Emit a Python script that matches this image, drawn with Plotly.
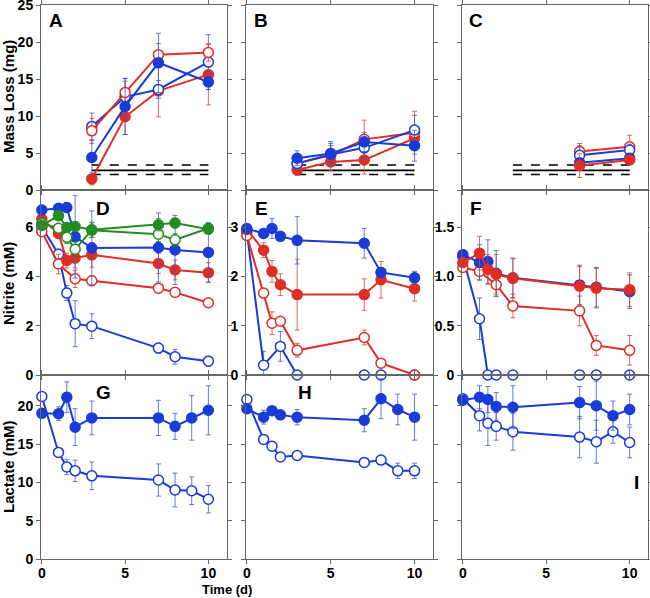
import plotly.graph_objects as go

W, H = 650, 598
BLUE = "rgb(25,60,215)"
RED = "rgb(225,45,35)"
GREEN = "rgb(35,140,35)"
EB_BLUE = "rgba(60,90,215,0.8)"
EB_RED = "rgba(215,70,55,0.8)"
EB_GREEN = "rgba(40,140,40,0.8)"

# ---------------- data ----------------
# Mass loss panels (A, B, C)
t_mass = [3, 5, 7, 10]
A_blue_filled = [4.4, 11.3, 17.2, 14.6]; A_blue_filled_e = [2.3, 3.8, 4.0, 1.0]
A_blue_open = [8.6, 12.6, 13.6, 17.3];   A_blue_open_e = [1.8, 2.5, 1.2, 3.7]
A_red_filled = [1.5, 9.9, 13.4, 15.6];   A_red_filled_e = [0.8, 2.4, 3.5, 4.1]
A_red_open = [8.0, 13.2, 18.3, 18.6];    A_red_open_e = [1.7, 1.5, 1.5, 1.2]

B_blue_filled = [4.3, 4.95, 6.5, 6.0];   B_blue_filled_e = [1.0, 1.6, 1.3, 2.1]
B_blue_open = [3.6, 4.8, 5.7, 8.1];      B_blue_open_e = [0.8, 1.5, 1.5, 2.0]
B_red_filled = [2.7, 3.8, 4.05, 7.0];    B_red_filled_e = [0.7, 1.2, 1.9, 1.5]
B_red_open = [3.6, 4.7, 6.85, 7.75];     B_red_open_e = [0.7, 1.3, 2.6, 2.9]

t_massC = [7, 10]
C_blue_filled = [3.7, 4.3];  C_blue_filled_e = [0.6, 0.6]
C_blue_open = [4.7, 5.4];    C_blue_open_e = [1.6, 0.8]
C_red_filled = [3.3, 4.05];  C_red_filled_e = [1.6, 0.6]
C_red_open = [5.2, 5.85];    C_red_open_e = [0.8, 1.55]

# Detection limit lines (mean and +/- range)
lim_t = [3, 10]
lim_mean = [2.65, 2.65]
lim_hi = [3.38, 3.38]
lim_lo = [2.1, 2.1]

# Nitrite panels (D, E, F)
t_nit = [0, 1, 1.5, 2, 3, 7, 8, 10]
D_green_filled = [6.06, 6.46, 5.98, 6.02, 5.89, 6.09, 6.16, 5.91]; D_green_filled_e = [0.15, 0.2, 0.15, 0.2, 0.3, 0.25, 0.2, 0.2]
D_green_open = [6.14, 5.95, 5.58, 5.1, 5.87, 5.71, 5.48, 5.95];    D_green_open_e = [0.1, 0.2, 0.25, 0.3, 0.3, 0.3, 0.25, 0.2]
D_blue_filled = [6.69, 6.76, 6.79, 5.6, 5.15, 5.17, 5.07, 4.97];   D_blue_filled_e = [0.1, 0.15, 0.2, 1.67, 1.5, 1.4, 1.4, 1.2]
D_blue_open = [6.0, 4.9, 3.32, 2.08, 1.98, 1.09, 0.74, 0.56];      D_blue_open_e = [0.1, 0.2, 0.3, 0.93, 0.5, 0.2, 0.3, 0.2]
D_red_filled = [6.32, 5.74, 4.64, 4.74, 4.87, 4.52, 4.26, 4.15];   D_red_filled_e = [0.1, 0.2, 0.3, 0.4, 0.5, 0.4, 0.4, 0.4]
t_nitD_ro = [0, 1, 2, 3, 7, 8, 10]
D_red_open = [5.81, 4.5, 3.9, 3.82, 3.52, 3.35, 2.93];             D_red_open_e = [0.1, 0.4, 0.35, 0.2, 0.1, 0.1, 0.1]

E_blue_filled = [2.97, 2.87, 2.97, 2.81, 2.73, 2.67, 2.08, 1.97];  E_blue_filled_e = [0.1, 0.05, 0.2, 0.05, 0.48, 0.3, 0.1, 0.13]
E_red_filled = [2.95, 2.53, 2.1, 1.83, 1.63, 1.63, 1.93, 1.75];    E_red_filled_e = [0.1, 0.15, 0.22, 0.22, 0.72, 0.32, 0.37, 0.25]
E_red_open = [2.83, 1.66, 1.05, 1.09, 0.5, 0.76, 0.24, 0.0];       E_red_open_e = [0.05, 0.05, 0.23, 0.05, 0.14, 0.15, 0.05, 0.0]
t_nitE_bo = [0, 1, 2, 3, 7, 8, 10]
E_blue_open = [2.9, 0.2, 0.58, 0.0, 0.0, 0.0, 0.0];                E_blue_open_e = [0.05, 0.28, 0.3, 0, 0, 0, 0]

F_blue_filled = [1.22, 1.14, 1.15, 1.03, 0.985, 0.913, 0.89, 0.845]; F_blue_filled_e = [0.05, 0.18, 0.22, 0.23, 0.2, 0.2, 0.2, 0.17]
F_red_filled = [1.14, 1.235, 1.07, 1.02, 0.98, 0.9, 0.88, 0.865];    F_red_filled_e = [0.05, 0.17, 0.15, 0.2, 0.2, 0.2, 0.2, 0.17]
t_nitF_ro = [0, 1, 2, 3, 7, 8, 10]
F_red_open = [1.09, 1.05, 0.915, 0.70, 0.65, 0.30, 0.25];            F_red_open_e = [0.03, 0.08, 0.12, 0.12, 0.15, 0.1, 0.15]
F_blue_open = [1.2, 0.57, 0.0, 0.0, 0.0, 0.0, 0.0, 0.0];             F_blue_open_e = [0.03, 0.21, 0, 0, 0, 0, 0, 0]

# Lactate panels (G, H, I)
t_lac = [0, 1, 1.5, 2, 3, 7, 8, 9, 10]
G_blue_filled = [19.0, 18.95, 21.1, 17.2, 18.4, 18.4, 17.3, 18.4, 19.4]; G_blue_filled_e = [0.5, 0.9, 2.0, 2.4, 2.2, 2.3, 1.7, 2.9, 3.2]
G_blue_open = [21.2, 13.9, 12.0, 11.5, 10.85, 10.3, 9.0, 8.9, 7.8];      G_blue_open_e = [0.3, 0.5, 1.0, 1.4, 1.8, 2.1, 2.2, 1.8, 1.8]
H_blue_filled = [19.6, 18.5, 19.35, 18.8, 18.5, 18.1, 20.9, 19.5, 18.5]; H_blue_filled_e = [0.3, 0.9, 0.3, 0.3, 1.0, 1.5, 2.6, 2.0, 3.0]
H_blue_open = [20.8, 15.6, 14.7, 13.3, 13.5, 12.6, 12.9, 11.5, 11.5];    H_blue_open_e = [0.2, 0.3, 0.3, 0.5, 0.3, 0.3, 0.3, 1.0, 1.0]
I_blue_filled = [20.7, 21.1, 20.8, 19.9, 19.8, 20.4, 20.0, 18.7, 19.5];  I_blue_filled_e = [0.3, 1.5, 1.7, 1.8, 2.8, 2.1, 3.2, 1.9, 2.0]
I_blue_open = [20.9, 18.7, 17.7, 17.3, 16.6, 15.9, 15.3, 16.6, 15.2];    I_blue_open_e = [0.3, 2.0, 2.9, 1.8, 2.4, 2.7, 2.8, 1.5, 2.0]

panel_letters = ["A", "B", "C", "D", "E", "F", "G", "H", "I"]
y_titles = ["Mass Loss (mg)", "Nitrite (mM)", "Lactate (mM)"]
x_title = "Time (d)"
x_ticks = [0, 5, 10]

# ---------------- layout geometry (pixels) ----------------
col_px = [(41, 226.7), (246, 433), (462, 648)]
row_px = [(5, 190), (190, 375), (375, 559)]

fig = go.Figure()

def trace(k, x, y, e, color, ecolor, filled, width=2):
    ax = "" if k == 1 else str(k)
    fig.add_trace(go.Scatter(
        x=x, y=y, mode="lines+markers", xaxis="x" + ax, yaxis="y" + ax,
        line=dict(color=color, width=width),
        marker=dict(size=10, color=color if filled else "white",
                    line=dict(color=color, width=1.5)),
        error_y=dict(type="data", array=e, color=ecolor, thickness=1, width=2.5),
        cliponaxis=False, showlegend=False, hoverinfo="skip"))

def limits(k):
    ax = "" if k == 1 else str(k)
    for yy, dash in [(lim_hi, "dash"), (lim_mean, "solid"), (lim_lo, "dash")]:
        fig.add_trace(go.Scatter(x=lim_t, y=yy, mode="lines", xaxis="x" + ax, yaxis="y" + ax,
                                 line=dict(color="black", width=1.6, dash=dash),
                                 showlegend=False, hoverinfo="skip"))

# Panel A (1)
limits(1)
trace(1, t_mass, A_red_filled, A_red_filled_e, RED, EB_RED, True)
trace(1, t_mass, A_blue_open, A_blue_open_e, BLUE, EB_BLUE, False)
trace(1, t_mass, A_red_open, A_red_open_e, RED, EB_RED, False)
trace(1, t_mass, A_blue_filled, A_blue_filled_e, BLUE, EB_BLUE, True)
# Panel B (2)
limits(2)
trace(2, t_mass, B_red_filled, B_red_filled_e, RED, EB_RED, True)
trace(2, t_mass, B_red_open, B_red_open_e, RED, EB_RED, False)
trace(2, t_mass, B_blue_open, B_blue_open_e, BLUE, EB_BLUE, False)
trace(2, t_mass, B_blue_filled, B_blue_filled_e, BLUE, EB_BLUE, True)
# Panel C (3)
limits(3)
trace(3, t_massC, C_red_open, C_red_open_e, RED, EB_RED, False)
trace(3, t_massC, C_blue_open, C_blue_open_e, BLUE, EB_BLUE, False)
trace(3, t_massC, C_blue_filled, C_blue_filled_e, BLUE, EB_BLUE, True)
trace(3, t_massC, C_red_filled, C_red_filled_e, RED, EB_RED, True)
# Panel D (4)
trace(4, t_nit, D_blue_open, D_blue_open_e, BLUE, EB_BLUE, False)
trace(4, t_nitD_ro, D_red_open, D_red_open_e, RED, EB_RED, False)
trace(4, t_nit, D_red_filled, D_red_filled_e, RED, EB_RED, True)
trace(4, t_nit, D_blue_filled, D_blue_filled_e, BLUE, EB_BLUE, True)
trace(4, t_nit, D_green_open, D_green_open_e, GREEN, EB_GREEN, False)
trace(4, t_nit, D_green_filled, D_green_filled_e, GREEN, EB_GREEN, True)
# Panel E (5)
trace(5, t_nitE_bo, E_blue_open, E_blue_open_e, BLUE, EB_BLUE, False)
trace(5, t_nit, E_red_open, E_red_open_e, RED, EB_RED, False)
trace(5, t_nit, E_red_filled, E_red_filled_e, RED, EB_RED, True)
trace(5, t_nit, E_blue_filled, E_blue_filled_e, BLUE, EB_BLUE, True)
# Panel F (6)
trace(6, t_nit, F_blue_open, F_blue_open_e, BLUE, EB_BLUE, False)
trace(6, t_nitF_ro, F_red_open, F_red_open_e, RED, EB_RED, False)
trace(6, t_nit, F_blue_filled, F_blue_filled_e, BLUE, EB_BLUE, True)
trace(6, t_nit, F_red_filled, F_red_filled_e, RED, EB_RED, True)
# Panels G, H, I (7, 8, 9)
trace(7, t_lac, G_blue_open, G_blue_open_e, BLUE, EB_BLUE, False)
trace(7, t_lac, G_blue_filled, G_blue_filled_e, BLUE, EB_BLUE, True)
trace(8, t_lac, H_blue_open, H_blue_open_e, BLUE, EB_BLUE, False)
trace(8, t_lac, H_blue_filled, H_blue_filled_e, BLUE, EB_BLUE, True)
trace(9, t_lac, I_blue_open, I_blue_open_e, BLUE, EB_BLUE, False)
trace(9, t_lac, I_blue_filled, I_blue_filled_e, BLUE, EB_BLUE, True)

# ---------------- axes ----------------
y_specs = [
    dict(range=[0, 25.02], tickvals=[0, 5, 10, 15, 20, 25], ticktext=None),
    dict(range=[0, 7.5], tickvals=[0, 2, 4, 6], ticktext=None),
    dict(range=[0, 24], tickvals=[0, 5, 10, 15, 20], ticktext=None),
]
y_labels_shown = {1: True, 2: False, 3: False, 4: True, 5: True, 6: True, 7: True, 8: False, 9: False}
y_override = {
    5: dict(range=[0, 3.75], tickvals=[0, 1, 2, 3], ticktext=None),
    6: dict(range=[0, 1.875], tickvals=[0, 0.5, 1.0, 1.5], ticktext=["0", "0.5", "1.0", "1.5"]),
}
AXC = "#666666"
tickfont = dict(family="Liberation Sans, Arial, sans-serif", size=14, color="black", weight="bold")

layout = dict(width=W, height=H, margin=dict(l=0, r=0, t=0, b=0, autoexpand=False),
              plot_bgcolor="white", paper_bgcolor="white", showlegend=False)
annotations = []
for r in range(3):
    for c in range(3):
        k = r * 3 + 1 + c
        ax = "" if k == 1 else str(k)
        x0, x1 = col_px[c]
        yt, yb = row_px[r]
        layout["xaxis" + ax] = dict(
            domain=[x0 / W, x1 / W], anchor="y" + ax, range=[-0.05, 11.1],
            tickvals=x_ticks, showticklabels=(r == 2), ticks="outside", ticklen=4,
            tickcolor=AXC, showline=True, linecolor=AXC, linewidth=1, mirror="ticks",
            showgrid=False, zeroline=False, tickfont=tickfont, automargin=False,
            ticklabeloverflow="allow", ticklabelstandoff=-3)
        spec = y_override.get(k, y_specs[r])
        ya = dict(
            domain=[1 - yb / H, 1 - yt / H], anchor="x" + ax, range=spec["range"],
            tickvals=spec["tickvals"], showticklabels=y_labels_shown[k], ticks="outside",
            ticklen=4, tickcolor=AXC, showline=True, linecolor=AXC, linewidth=1,
            mirror="ticks", showgrid=False, zeroline=False, tickfont=tickfont, automargin=False,
            ticklabeloverflow="allow")
        if spec["ticktext"]:
            ya["ticktext"] = spec["ticktext"]
        layout["yaxis" + ax] = ya

letter_pos = [(56, 21), (261, 21), (476, 21), (103, 208), (261, 208), (476, 208),
              (103, 392), (305, 392), (636, 482)]
for L, (px, py) in zip(panel_letters, letter_pos):
    annotations.append(dict(text="<b>%s</b>" % L, x=px / W, y=1 - py / H, xref="paper", yref="paper",
                            showarrow=False, xanchor="center", yanchor="middle",
                            font=dict(family="Liberation Sans, Arial, sans-serif", size=19, color="black")))
for t, cy in zip(y_titles, [97, 284, 467]):
    annotations.append(dict(text="<b>%s</b>" % t, x=8 / W, y=1 - cy / H, xref="paper", yref="paper",
                            showarrow=False, textangle=-90, xanchor="center", yanchor="middle",
                            font=dict(family="Liberation Sans, Arial, sans-serif", size=15, color="black")))
annotations.append(dict(text="<b>%s</b>" % x_title, x=227 / W, y=1 - 589.5 / H, xref="paper", yref="paper",
                        showarrow=False, xanchor="center", yanchor="middle",
                        font=dict(family="Liberation Sans, Arial, sans-serif", size=13, color="black")))
layout["annotations"] = annotations
fig.update_layout(**layout)
fig.write_html("out.html", config={"displayModeBar": False},
               post_script="document.body.style.margin='0px';document.body.style.overflow='hidden';")
